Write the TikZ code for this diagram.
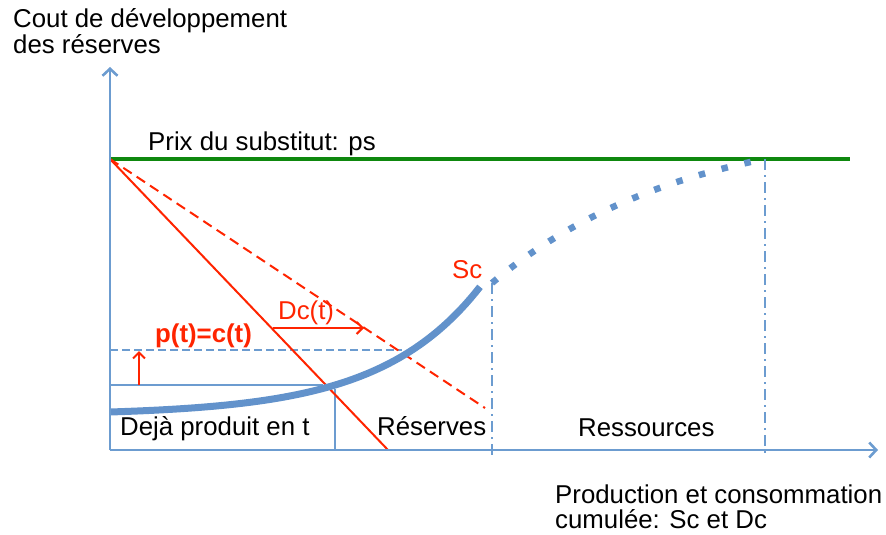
\documentclass[tikz,border=0pt]{standalone}
\usepackage{fontspec}
\setmainfont{Liberation Sans}
\usetikzlibrary{arrows.meta}
\definecolor{axisblue}{RGB}{108,156,208}
\definecolor{curveblue}{RGB}{98,146,203}
\definecolor{subgreen}{RGB}{14,136,14}
\definecolor{demred}{RGB}{255,36,0}
\begin{document}
\begin{tikzpicture}[x=1pt,y=-1pt,
  lbl/.style={inner sep=0pt, anchor=base west, font=\fontsize{25.8}{30}\selectfont},
  axisline/.style={axisblue, line width=2.6pt, -{Straight Barb[length=7pt,width=15pt,line width=2.6pt]}},
  thinblue/.style={axisblue, line width=2pt},
  guide/.style={axisblue, line width=1.8pt, dash pattern=on 8pt off 4pt},
  dashdotline/.style={axisblue, line width=2.6pt, dash pattern=on 11pt off 5pt on 2pt off 5pt},
  supply/.style={curveblue, line width=7pt},
  supplydots/.style={curveblue, line width=6.5pt, dash pattern=on 6.5pt off 17pt},
  demand/.style={demred, line width=2pt},
  demanddash/.style={demred, line width=2pt, dash pattern=on 10pt off 6pt},
  shift arrow/.style={demred, line width=2pt, -{Straight Barb[length=6pt,width=12pt,line width=2pt]}},
  subst/.style={subgreen, line width=4pt}]
\useasboundingbox (0,0) rectangle (886,535);

% key points
\coordinate (O) at (110,450);
\coordinate (ytip) at (110,67);
\coordinate (xtip) at (878,450);
\coordinate (P0) at (110,159);
\coordinate (gEnd) at (850,159);
\coordinate (dEnd) at (388,450);
\coordinate (ddEnd) at (485,408);
\coordinate (S1) at (492,283);
\coordinate (S2) at (765,159);
\coordinate (S1foot) at (492,456);
\coordinate (S2foot) at (765,454);
\coordinate (hL) at (110,385);
\coordinate (hR) at (323,385);
\coordinate (vT) at (335,389);
\coordinate (vB) at (335,450);
\coordinate (gL) at (110,350);
\coordinate (gR) at (402,350);
\coordinate (upB) at (139,385);
\coordinate (upT) at (139,351);
\coordinate (dcL) at (273,328);
\coordinate (dcR) at (364,328);

% substitute price
\draw[subst] (P0) -- (gEnd);

% guides for the current production level
\draw[thinblue] (hL) -- (hR);
\draw[thinblue] (vT) -- (vB);
\draw[guide] (gL) -- (gR);

% reserves / resources limits
\draw[dashdotline] (S1) -- (S1foot);
\draw[dashdotline] (S2) -- (S2foot);

% demand curves
\draw[demand] (P0) -- (dEnd);
\draw[demanddash] (P0) -- (ddEnd);

% cumulative supply curve
\draw[supply] plot[domain=110:480, samples=80] (\x, {412 - 3.18*(exp(0.01*(\x-110))-1)});
\draw[supplydots] (S1) .. controls (563,223) and (654,181) .. (S2);

% shifts
\draw[shift arrow] (upB) -- (upT);
\draw[shift arrow] (dcL) -- (dcR);

% axes
\draw[axisline] (O) -- (ytip);
\draw[axisline] (O) -- (xtip);

% labels
\node[lbl] (ylab1) at (13,28) {Cout de développement};
\node[lbl] (ylab2) at (13,54) {des réserves};
\node[lbl] (ps) at (148,150) {Prix du substitut: ps};
\node[lbl, text=demred] (sc) at (452,278) {Sc};
\node[lbl, text=demred] (dc) at (278,319) {Dc(t)};
\node[lbl, text=demred, font=\fontsize{25.8}{30}\selectfont\bfseries] (pc) at (155,342) {p(t)=c(t)};
\node[lbl] (deja) at (120,435) {Dejà produit en t};
\node[lbl] (res) at (377,435) {Réserves};
\node[lbl] (ress) at (578,436) {Ressources};
\node[lbl] (xl1) at (555,503) {Production et consommation};
\node[lbl] (xl2) at (555,528) {cumulée: Sc et Dc};
\end{tikzpicture}
\end{document}
